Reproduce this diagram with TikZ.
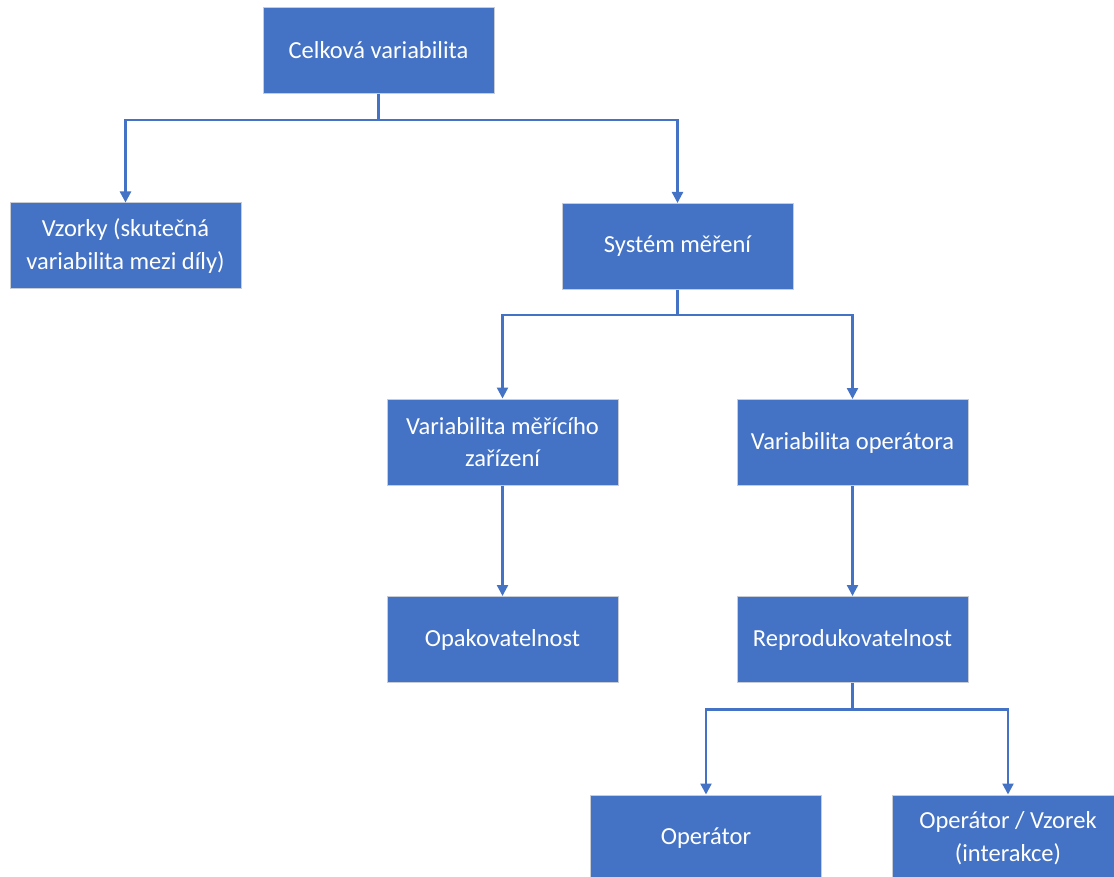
\documentclass[tikz,border=0pt]{standalone}
\usepackage{fontspec}
\setmainfont{Carlito}
\usetikzlibrary{arrows.meta}
\definecolor{boxblue}{HTML}{4472C4}
\definecolor{boxedge}{HTML}{C8CCD4}
\begin{document}
\begin{tikzpicture}[x=1pt,y=-1pt,
  box/.style={rectangle, draw=boxedge, line width=1pt, fill=boxblue, text=white,
    minimum width=231pt, minimum height=86pt, inner sep=2pt, align=center,
    font=\fontsize{24.5}{32.5}\selectfont},
  conn/.style={draw=boxblue, line width=2.3pt},
  arr/.style={conn, -{Triangle[width=11pt,length=11pt]}}]
\useasboundingbox (0,0) rectangle (1114,877);
\clip (0,0) rectangle (1114,877);
\node[box] (top) at (378.5,50.5) {Celková variabilita};
\node[box] (vz) at (125.5,246) {Vzorky (skutečná\\variabilita mezi díly)};
\node[box] (sys) at (677.5,246.5) {Systém měření};
\node[box] (vm) at (502.5,442) {Variabilita měřícího\\zařízení};
\node[box] (vo) at (852.5,442.5) {Variabilita operátora};
\node[box] (opak) at (502.5,639.5) {Opakovatelnost};
\node[box] (rep) at (852.5,639.5) {Reprodukovatelnost};
\node[box] (op) at (706,838) {Operátor};
\node[box] (ov) at (1008,838) {Operátor / Vzorek\\(interakce)};
\coordinate (j1) at (0,120);
\coordinate (j2) at (0,315);
\coordinate (j3) at (0,709.5);
\draw[arr] (top.south) -- (top.south |- j1) -| (vz.north);
\draw[arr] (top.south |- j1) -| (sys.north);
\draw[arr] (sys.south) -- (sys.south |- j2) -| (vm.north);
\draw[arr] (sys.south |- j2) -| (vo.north);
\draw[arr] (vm.south) -- (opak.north);
\draw[arr] (vo.south) -- (rep.north);
\draw[arr] (rep.south) -- (rep.south |- j3) -| (op.north);
\draw[arr] (rep.south |- j3) -| (ov.north);
\end{tikzpicture}
\end{document}
